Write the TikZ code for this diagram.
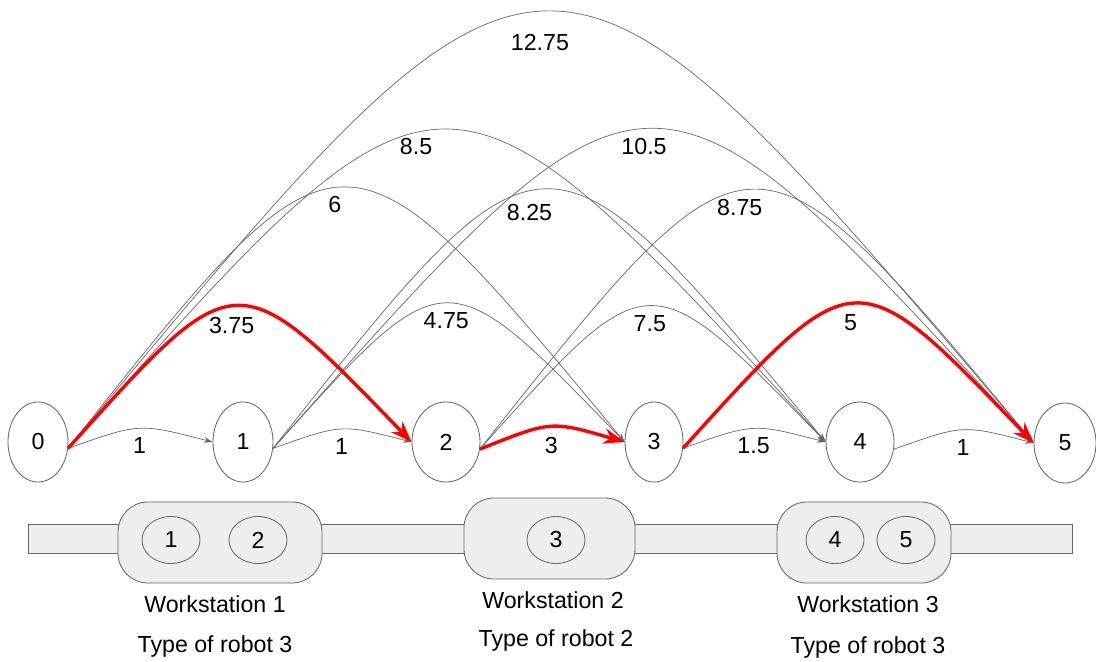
\documentclass[tikz,border=0pt]{standalone}
\usepackage{fontspec}
\setmainfont{Liberation Sans}
\usetikzlibrary{
  shapes.geometric,
  arrows.meta,
  positioning
}
\definecolor{linegray}{RGB}{102,102,102}
\definecolor{boxfill}{RGB}{238,238,238}
\definecolor{pathred}{RGB}{255,0,0}
\tikzset{
  stop/.style={ellipse,draw=linegray,line width=0.6pt,fill=white,minimum height=2cm,inner sep=0pt},
  robot/.style={ellipse,draw=linegray,line width=0.6pt,fill=boxfill,minimum width=1.45cm,minimum height=1.175cm,inner sep=0pt},
  station/.style={rectangle,rounded corners=0.75cm,draw=linegray,line width=0.6pt,fill=boxfill,minimum height=2.025cm},
  arc/.style={draw=linegray,line width=0.5pt,-{Stealth[length=6pt,width=4pt]}},
  best/.style={draw=pathred,line width=2.4pt,-{Stealth[length=15pt,width=11pt]}},
  hop1/.style={bend left=17,looseness=1.35},
  hop2/.style={bend left=47,looseness=1.88},
  hop3/.style={bend left=51,looseness=2.03},
  hop4/.style={bend left=48,looseness=1.91},
  hop5/.style={bend left=50,looseness=2.0},
  wt/.style={below=3pt}
}

\begin{document}
\begin{tikzpicture}[x=0.025cm,y=0.025cm,font=\fontsize{16.5}{20}\selectfont]
    \useasboundingbox (0,0) rectangle (1096,-662);

    % stations on the line
    \node[stop,minimum width=1.5cm] (s0) at (38,-442) {0};
    \node[stop,minimum width=1.5cm] (s1) at (243,-442) {1};
    \node[stop,minimum width=1.7cm] (s2) at (446,-442) {2};
    \node[stop,minimum width=1.45cm] (s3) at (654,-442) {3};
    \node[stop,minimum width=1.7cm] (s4) at (860,-442) {4};
    \node[stop,minimum width=1.55cm] (s5) at (1065,-443) {5};

    % all the arcs
    \draw[arc] (s0.-12) to[hop1] node[wt]{1} (s1.west);
    \draw[arc] (s1.-12) to[hop1] node[wt]{1} (s2.west);
    \draw[arc] (s3.-12) to[hop1] node[wt]{1.5} (s4.west);
    \draw[arc] (s4.-12) to[hop1] node[wt]{1} (s5.west);
    \draw[arc] (s1.-12) to[hop2] node[wt]{4.75} (s3.west);
    \draw[arc] (s2.-12) to[hop2] node[wt]{7.5} (s4.west);
    \draw[arc] (s0.-12) to[hop3] node[wt,xshift=-6]{6} (s3.west);
    \draw[arc] (s1.-12) to[hop3] node[wt,xshift=-12,yshift=-4]{8.25} (s4.west);
    \draw[arc] (s2.-12) to[hop3] node[wt,xshift=-10]{8.75} (s5.west);
    \draw[arc] (s0.-12) to[hop4] node[wt,xshift=-20]{8.5} (s4.west);
    \draw[arc] (s1.-12) to[hop4] node[wt,xshift=-5]{10.5} (s5.west);
    \draw[arc] (s0.-12) to[hop5] node[wt,yshift=-10,xshift=-6]{12.75} (s5.west);

    % best path
    \draw[best] (s0.-12) to[hop2] node[wt,xshift=-4]{3.75} (s2.west);
    \draw[best] (s2.-12) to[bend left=19,looseness=1.36] node[wt]{3} (s3.west);
    \draw[best] (s3.-12) to[hop2] node[wt,xshift=-4]{5} (s5.west);

    % assembly line and workstations
    \draw[draw=linegray,line width=0.6pt,fill=boxfill] (28,-524) rectangle (1072,-553);
    \node[station,minimum width=5.1cm] (ws1) at (220,-542.5) {};
    \node[station,minimum width=4.275cm] (ws2) at (549.5,-538.5) {};
    \node[station,minimum width=4.35cm] (ws3) at (864,-542.5) {};

    \node[robot] (r1) at (171,-540) {1};
    \node[robot] (r2) at (258,-540) {2};
    \node[robot] (r3) at (556,-540) {3};
    \node[robot] (r4) at (835,-540) {4};
    \node[robot] (r5) at (906,-540) {5};

    \node (ws1name) at (215,-604) {Workstation 1};
    \node (ws1type) at (215,-646) {Type of robot 3};
    \node (ws2name) at (553,-600) {Workstation 2};
    \node (ws2type) at (556,-640) {Type of robot 2};
    \node (ws3name) at (868,-604) {Workstation 3};
    \node (ws3type) at (868,-647) {Type of robot 3};
\end{tikzpicture}
\end{document}
